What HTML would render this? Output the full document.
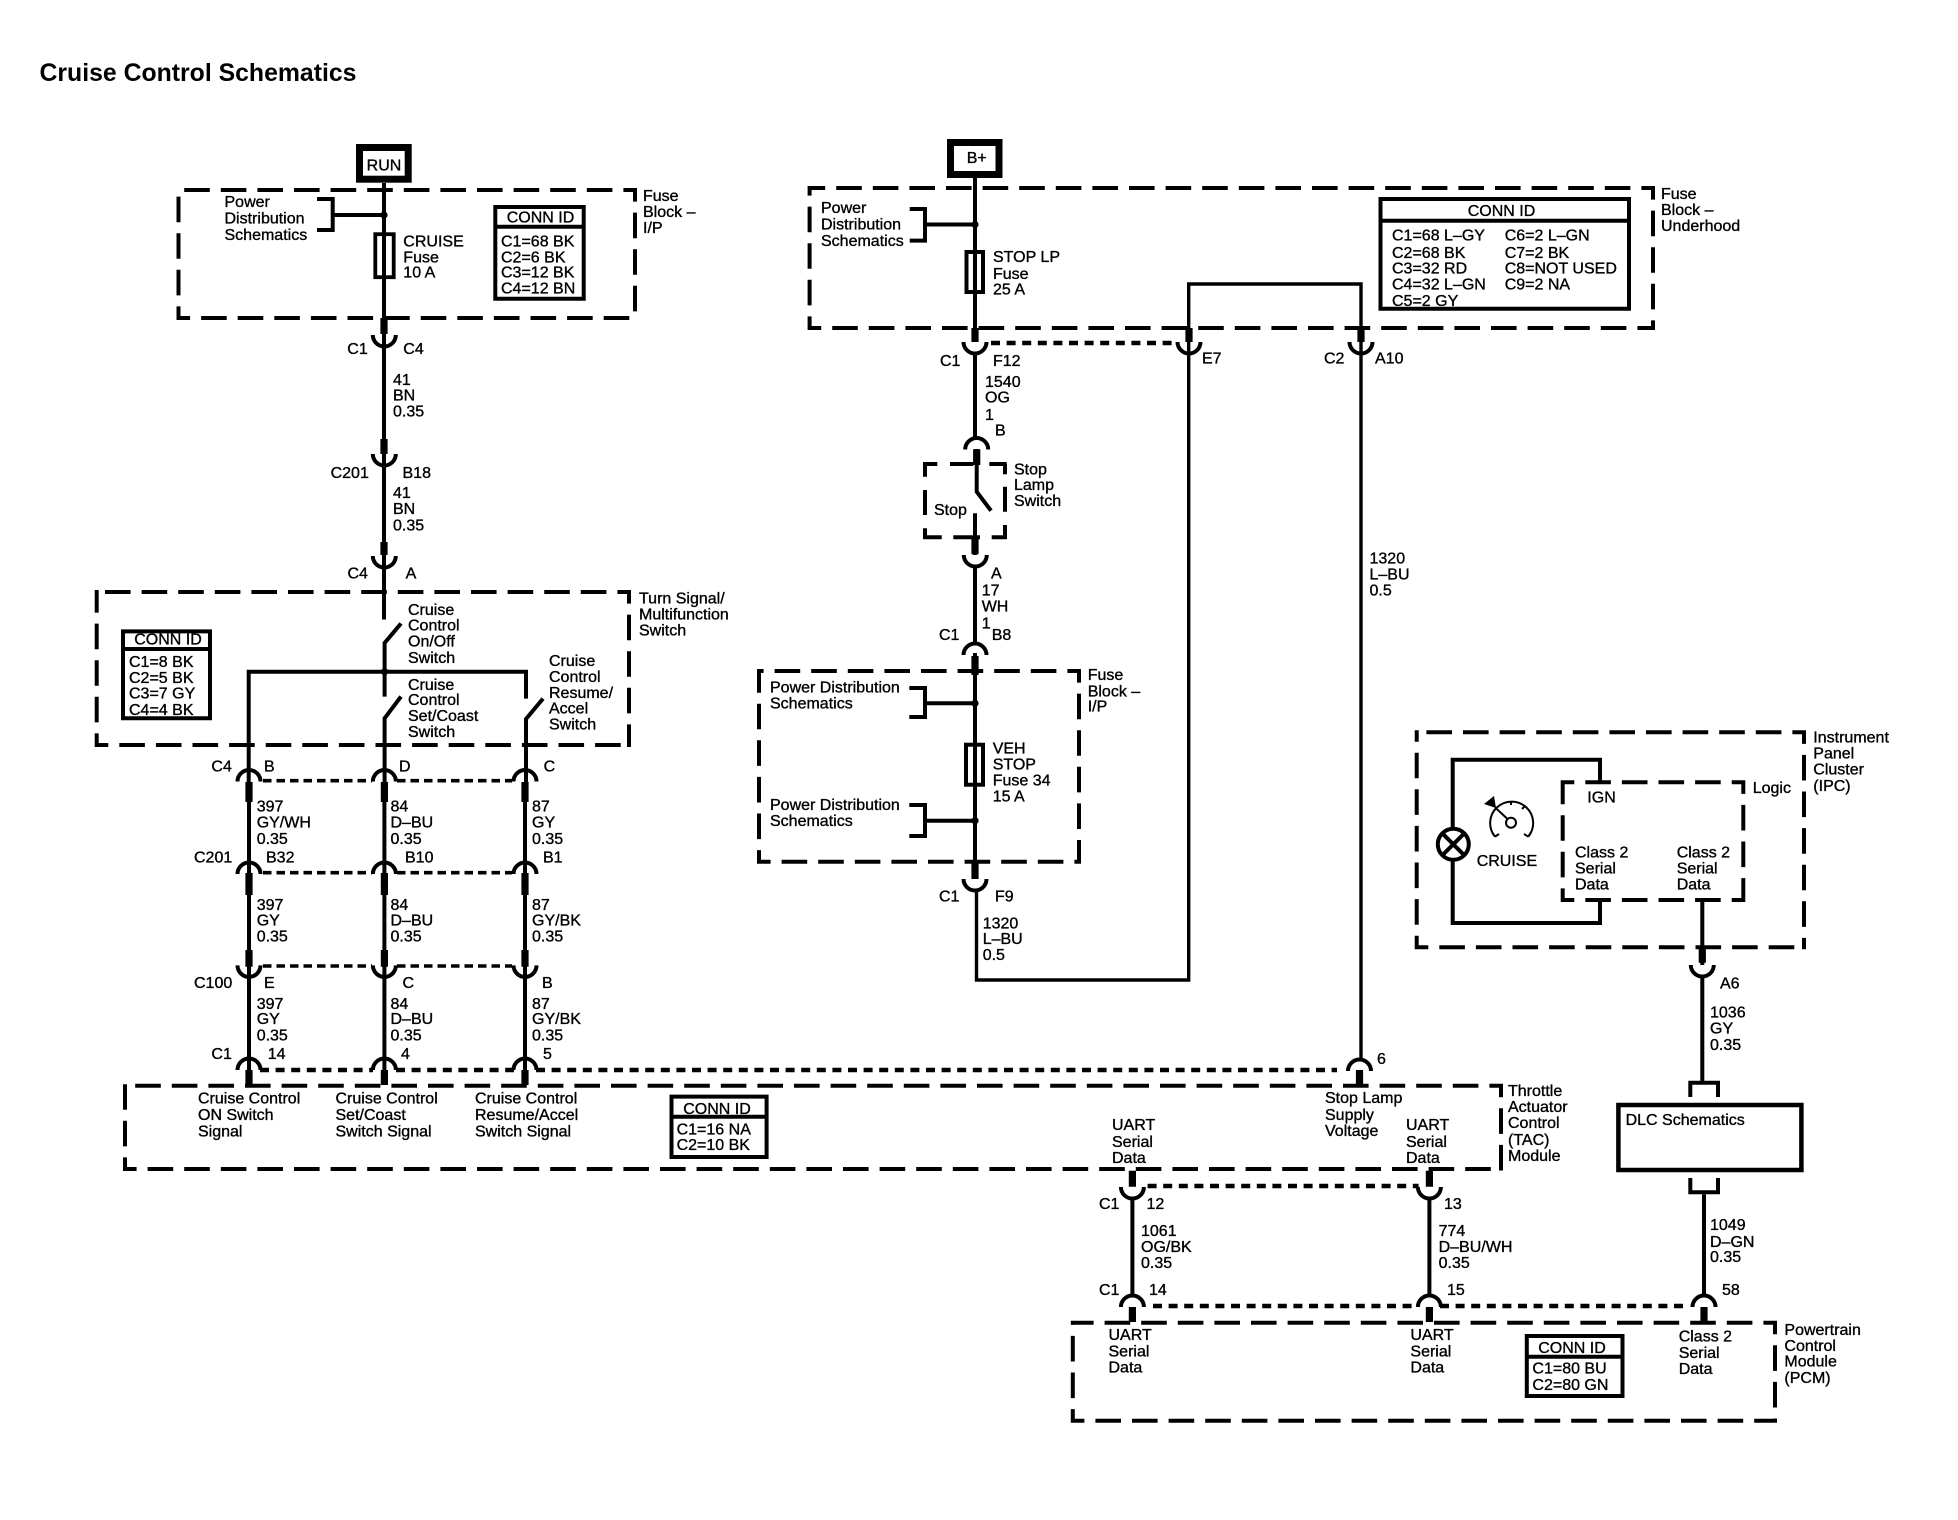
<!DOCTYPE html>
<html><head><meta charset="utf-8"><title>Cruise Control Schematics</title>
<style>
html,body{margin:0;padding:0;background:#fff}
svg{display:block}
text{font-family:"Liberation Sans",Arial,sans-serif;font-size:16px;fill:#000;stroke:#000;stroke-width:.35}
.m{text-anchor:middle}
.w,.b,.s,.x,.c,.dot,.dt,.d{fill:none;stroke:#000}
.w{stroke-width:4}
.n{fill:none;stroke:#000;stroke-width:3.4}
.s{stroke-width:7.2}
.c{stroke-width:4}
.x{stroke-width:4}
.d{stroke-width:4;stroke-linecap:square;stroke-dasharray:21.6 15;stroke-dashoffset:12}
.dot{stroke-width:4.5;stroke-dasharray:9 6.6}
.dt{stroke-width:3.6;stroke-dasharray:8.5 5}
</style></head><body>
<svg width="1958" height="1520" viewBox="0 0 1958 1520" xmlns="http://www.w3.org/2000/svg">
<rect width="1958" height="1520" fill="#fff"/>
<text x="39.5" y="81" style="font-size:24.8px;font-weight:bold;stroke-width:0">Cruise Control Schematics</text>

<!-- dashed boxes -->
<path class="d" d="M635 190H178.5M635 190V318M178.5 318V190M178.5 318H635"/>
<path class="d" d="M1653 188H809.6M1653 188V328M809.6 328V188M809.6 328H1653"/>
<path class="d" d="M629 592H96.7M629 592V745M96.7 745V592M96.7 745H629"/>
<path class="x" d="M923.3 464H937.3M950 464H973.3M989.3 464H1006.7M925 462V476.7M925 490V515M925 528.3V539M923.3 537.3H941.7M953.3 537.3H980M991.7 537.3H1006.7M1005 464V474.3M1005 486.7V511.7M1005 525V539"/>
<path class="d" d="M1079 671H759M1079 671V861.7M759 861.7V671M759 861.7H1079"/>
<path class="d" d="M1804 732.3H1416.7M1804 732.3V947.3M1416.7 947.3V732.3M1416.7 947.3H1804"/>
<path class="d" d="M1743.3 782.3H1562.7M1743.3 782.3V900M1562.7 900V782.3M1562.7 900H1743.3"/>
<path class="d" d="M1501 1085.7H125M1501 1085.7V1169M125 1169V1085.7M125 1169H1501"/>
<path class="d" d="M1775 1322.7H1072.8M1775 1322.7V1420.7M1072.8 1420.7V1322.7M1072.8 1420.7H1775"/>

<!-- boxes -->
<rect x="359.5" y="147.5" width="48.7" height="31.7" fill="#fff" stroke="#000" stroke-width="7"/>
<rect x="950.5" y="142.5" width="48.5" height="32" fill="#fff" stroke="#000" stroke-width="7"/>
<path class="x" d="M495.3 207H583.7V298.7H495.3ZM495.3 226.7H583.7"/>
<path class="x" d="M1380.5 199H1629V308.7H1380.5ZM1380.5 220.7H1629"/>
<path class="x" d="M123 631.4H210V718.3H123ZM123 649H210"/>
<path class="x" d="M671.5 1096.6H766.6V1157H671.5ZM671.5 1116.8H766.6"/>
<path class="x" d="M1526.8 1336H1622.5V1396H1526.8ZM1526.8 1356.7H1622.5"/>
<rect x="1618.4" y="1105" width="183" height="65" fill="#fff" stroke="#000" stroke-width="4.5"/>

<!-- wires, left -->
<path class="w" d="M384 183V619.5M401 623.5L384.6 643V696.6M401 696.6L384.6 718.3V782M543 698.6L526 719V782M526 698.6V671.7H248.7V782"/>
<path class="w" d="M332.7 215H384M317 199H332.7V230H317"/>
<path class="w" d="M249 782V1070M384.4 782V1070M525 782V1070"/>
<rect x="375.3" y="234.2" width="18.4" height="43" fill="none" stroke="#000" stroke-width="3.8"/>
<circle cx="384" cy="215" r="3.6"/><circle cx="384.6" cy="671.7" r="3.6"/>

<!-- wires, centre -->
<path class="w" d="M975 178V342M925 224.5H975M909.7 209H925V240.6H909.7"/>
<rect x="966.5" y="252" width="16.5" height="40" fill="none" stroke="#000" stroke-width="4"/>
<circle cx="975" cy="224.5" r="3.6"/>
<path class="w" d="M975 353V438M976.7 449V491.7L991 510.7M975 513.3V555M975 566V643M975 653V879"/>
<path class="w" d="M925 703.3H975M909.3 688H925V717H909.3M925 820.7H975M909.3 805H925V836H909.3"/>
<rect x="966" y="744.7" width="17" height="40" fill="none" stroke="#000" stroke-width="4"/>
<circle cx="975" cy="703.3" r="3.6"/><circle cx="975" cy="820.7" r="3.6"/>
<path class="n" d="M976.5 889V980H1188.7V284H1361V1060"/>

<!-- wires, right -->
<path class="w" d="M1132.4 1198V1296M1429.4 1198V1296M1704 1194.3V1296"/>
<path class="w" d="M1702.3 900V965M1702.3 977V1081M1690.3 1097V1082.7H1718V1097M1690.3 1178V1192.3H1718V1178"/>

<!-- IPC interior -->
<path class="w" d="M1452.7 829V759.7H1600V782.3M1452.7 860V923H1600V900"/>
<circle cx="1453.3" cy="844.3" r="15.5" fill="#fff" stroke="#000" stroke-width="4"/>
<path class="w" d="M1442.3 833.3L1464.3 855.3M1464.3 833.3L1442.3 855.3"/>
<g fill="none" stroke="#000" stroke-width="2">
<circle cx="1511" cy="822.7" r="5"/>
<path d="M1507 818.5L1495 807.3M1495 836.7A21.5 21.5 0 1 1 1528.3 836.7M1495 836.7L1492 832M1495 836.7L1499 834M1528.3 836.7L1524 834M1528.3 836.7L1531 832M1511 801V805M1525 806L1522 809"/>
</g>
<path d="M1484 804L1494 796L1496 808Z"/>

<!-- cups -->
<path class="c" d="M372.8 335a11.5 11.5 0 0 0 23 0M372.8 454a11.5 11.5 0 0 0 23 0M372.8 556a11.5 11.5 0 0 0 23 0
M963.5 342a11.5 11.5 0 0 0 23 0M1177.5 342a11.5 11.5 0 0 0 23 0M1349.5 342a11.5 11.5 0 0 0 23 0
M963.8 555a11.5 11.5 0 0 0 23 0M963.5 879a11.5 11.5 0 0 0 23 0
M237.5 965.4a11.5 11.5 0 0 0 23 0M372.9 965.4a11.5 11.5 0 0 0 23 0M513.5 965.4a11.5 11.5 0 0 0 23 0
M1690.8 965a11.5 11.5 0 0 0 23 0M1120.9 1187a11.5 11.5 0 0 0 23 0M1417.9 1187a11.5 11.5 0 0 0 23 0
M965.2 449.5a11.5 11.5 0 0 1 23 0M963.5 655a11.5 11.5 0 0 1 23 0
M237.5 781.5a11.5 11.5 0 0 1 23 0M372.9 781.5a11.5 11.5 0 0 1 23 0M513.5 781.5a11.5 11.5 0 0 1 23 0
M237.5 874a11.5 11.5 0 0 1 23 0M372.9 874a11.5 11.5 0 0 1 23 0M513.5 874a11.5 11.5 0 0 1 23 0
M237.5 1070a11.5 11.5 0 0 1 23 0M372.9 1070a11.5 11.5 0 0 1 23 0M513.5 1070a11.5 11.5 0 0 1 23 0
M1348 1071a11.5 11.5 0 0 1 23 0M1120.9 1307a11.5 11.5 0 0 1 23 0M1417.9 1307a11.5 11.5 0 0 1 23 0M1692.5 1307a11.5 11.5 0 0 1 23 0"/>

<!-- stubs -->
<path class="s" d="M384 318V334M384 439V454M384 542V555M975 328V342M1189 328V342M1361 328V342M976.7 449.3V465M975 536.7V554.3M975 656V675M975 860V879
M249 782V802M384.4 782V802M525 782V802M249 873V895M384.4 873V895M525 873V895M249 950V966.7M384.4 950V966.7M525 950V966.7M249 1070V1085M384.4 1070V1085M525 1070V1085
M1359.5 1070V1085M1702.3 947V962.7M1132.4 1170.7V1186.7M1429.4 1170.7V1186.7M1132.4 1307V1322M1429.4 1307V1322M1704 1307V1322"/>

<!-- dotted bus lines -->
<path class="dot" d="M991 343H1176M260 1070H373M396 1070H514M536 1070H1337M1147.6 1186H1418.6M1153 1306H1418M1440 1306H1689.6"/>
<path class="dt" d="M263 780.7H372M397 780.7H512M263 872.7H372M397 872.7H512M263 966H372M397 966H512"/>

<!-- labels top-left -->
<text class="m" x="384" y="170.5">RUN</text>
<text x="224.5" y="207">Power</text><text x="224.5" y="223.4">Distribution</text><text x="224.5" y="239.8">Schematics</text>
<text x="403.3" y="246.7">CRUISE</text><text x="403.3" y="262.3">Fuse</text><text x="403.3" y="277.7">10 A</text>
<text class="m" x="540.5" y="222.3">CONN ID</text>
<text x="501" y="246.7">C1=68 BK</text><text x="501" y="262.3">C2=6 BK</text><text x="501" y="277.7">C3=12 BK</text><text x="501" y="293.3">C4=12 BN</text>
<text x="643" y="201">Fuse</text><text x="643" y="217">Block –</text><text x="643" y="233">I/P</text>
<text x="347.3" y="354">C1</text><text x="403.3" y="354">C4</text>
<text x="393" y="385">41</text><text x="393" y="400.4">BN</text><text x="393" y="416.5">0.35</text>
<text x="330.6" y="478">C201</text><text x="402.5" y="478">B18</text>
<text x="393" y="498">41</text><text x="393" y="514">BN</text><text x="393" y="530.7">0.35</text>
<text x="347.5" y="578.5">C4</text><text x="405.6" y="578.5">A</text>

<!-- turn signal -->
<text x="639" y="603.7">Turn Signal/</text><text x="639" y="619.5">Multifunction</text><text x="639" y="635.3">Switch</text>
<text x="408" y="614.8">Cruise</text><text x="408" y="630.6">Control</text><text x="408" y="646.4">On/Off</text><text x="408" y="663">Switch</text>
<text x="408" y="690">Cruise</text><text x="408" y="705">Control</text><text x="408" y="721">Set/Coast</text><text x="408" y="737">Switch</text>
<text x="549" y="666">Cruise</text><text x="549" y="682">Control</text><text x="549" y="698">Resume/</text><text x="549" y="713.6">Accel</text><text x="549" y="729.4">Switch</text>
<text class="m" x="168" y="644.4">CONN ID</text>
<text x="129" y="667">C1=8 BK</text><text x="129" y="682.8">C2=5 BK</text><text x="129" y="698.6">C3=7 GY</text><text x="129" y="715">C4=4 BK</text>

<!-- harness labels -->
<text x="211.4" y="771.7">C4</text><text x="264" y="771.7">B</text><text x="399" y="771.7">D</text><text x="543.6" y="771.7">C</text>
<text x="256.7" y="811.7">397</text><text x="256.7" y="827.7">GY/WH</text><text x="256.7" y="844">0.35</text>
<text x="390.5" y="811.7">84</text><text x="390.5" y="827.7">D–BU</text><text x="390.5" y="844">0.35</text>
<text x="532" y="811.7">87</text><text x="532" y="827.7">GY</text><text x="532" y="844">0.35</text>
<text x="194" y="862.6">C201</text><text x="266" y="862.6">B32</text><text x="405" y="862.6">B10</text><text x="543" y="862.6">B1</text>
<text x="256.7" y="910">397</text><text x="256.7" y="925.7">GY</text><text x="256.7" y="941.7">0.35</text>
<text x="390.5" y="910">84</text><text x="390.5" y="925.7">D–BU</text><text x="390.5" y="941.7">0.35</text>
<text x="532" y="910">87</text><text x="532" y="925.7">GY/BK</text><text x="532" y="941.7">0.35</text>
<text x="194" y="988">C100</text><text x="264" y="988">E</text><text x="402.5" y="988">C</text><text x="542" y="988">B</text>
<text x="256.7" y="1008.9">397</text><text x="256.7" y="1024">GY</text><text x="256.7" y="1040.5">0.35</text>
<text x="390.5" y="1008.9">84</text><text x="390.5" y="1024">D–BU</text><text x="390.5" y="1040.5">0.35</text>
<text x="532" y="1008.9">87</text><text x="532" y="1024">GY/BK</text><text x="532" y="1040.5">0.35</text>
<text x="211.4" y="1059">C1</text><text x="267.7" y="1059">14</text><text x="401" y="1059">4</text><text x="543" y="1059">5</text>

<!-- TAC -->
<text x="198" y="1103.7">Cruise Control</text><text x="198" y="1120">ON Switch</text><text x="198" y="1136.5">Signal</text>
<text x="335.5" y="1103.7">Cruise Control</text><text x="335.5" y="1120">Set/Coast</text><text x="335.5" y="1136.5">Switch Signal</text>
<text x="475" y="1103.7">Cruise Control</text><text x="475" y="1120">Resume/Accel</text><text x="475" y="1136.5">Switch Signal</text>
<text class="m" x="717" y="1114">CONN ID</text><text x="676.6" y="1134.5">C1=16 NA</text><text x="676.6" y="1150">C2=10 BK</text>
<text x="1377" y="1064">6</text>
<text x="1325" y="1103">Stop Lamp</text><text x="1325" y="1120">Supply</text><text x="1325" y="1136">Voltage</text>
<text x="1112" y="1130">UART</text><text x="1112" y="1147">Serial</text><text x="1112" y="1163">Data</text>
<text x="1406" y="1130">UART</text><text x="1406" y="1147">Serial</text><text x="1406" y="1163">Data</text>
<text x="1508" y="1096">Throttle</text><text x="1508" y="1112">Actuator</text><text x="1508" y="1128">Control</text><text x="1508" y="1145">(TAC)</text><text x="1508" y="1161">Module</text>

<!-- centre labels -->
<text class="m" x="976.7" y="163">B+</text>
<text x="821" y="213">Power</text><text x="821" y="229.5">Distribution</text><text x="821" y="246">Schematics</text>
<text x="993" y="262">STOP LP</text><text x="993" y="279">Fuse</text><text x="993" y="294.6">25 A</text>
<text class="m" x="1501.5" y="216">CONN ID</text>
<text x="1392" y="240.6">C1=68 L–GY</text><text x="1392" y="258">C2=68 BK</text><text x="1392" y="273.6">C3=32 RD</text><text x="1392" y="289.7">C4=32 L–GN</text><text x="1392" y="305.8">C5=2 GY</text>
<text x="1504.7" y="240.6">C6=2 L–GN</text><text x="1504.7" y="258">C7=2 BK</text><text x="1504.7" y="273.6">C8=NOT USED</text><text x="1504.7" y="289.7">C9=2 NA</text>
<text x="1661" y="199">Fuse</text><text x="1661" y="215">Block –</text><text x="1661" y="231">Underhood</text>
<text x="940" y="366">C1</text><text x="993" y="366">F12</text><text x="1202" y="363.6">E7</text><text x="1324" y="363.6">C2</text><text x="1375" y="363.6">A10</text>
<text x="985" y="387">1540</text><text x="985" y="402.7">OG</text><text x="985" y="420">1</text><text x="995" y="435.7">B</text>
<text x="934" y="515">Stop</text>
<text x="1014" y="474.3">Stop</text><text x="1014" y="490">Lamp</text><text x="1014" y="506">Switch</text>
<text x="991" y="578.3">A</text><text x="981.7" y="595.7">17</text><text x="981.7" y="611.7">WH</text><text x="981.7" y="628.3">1</text>
<text x="939" y="640">C1</text><text x="991.7" y="640">B8</text>
<text x="770" y="692.7">Power Distribution</text><text x="770" y="708.3">Schematics</text>
<text x="770" y="810">Power Distribution</text><text x="770" y="826">Schematics</text>
<text x="992.7" y="753.3">VEH</text><text x="992.7" y="769.3">STOP</text><text x="992.7" y="785.7">Fuse 34</text><text x="992.7" y="801.7">15 A</text>
<text x="1087.7" y="680">Fuse</text><text x="1087.7" y="696.7">Block –</text><text x="1087.7" y="711.7">I/P</text>
<text x="939" y="901.7">C1</text><text x="995" y="901.7">F9</text>
<text x="982.7" y="928.3">1320</text><text x="982.7" y="944">L–BU</text><text x="982.7" y="960">0.5</text>
<text x="1369.5" y="563.6">1320</text><text x="1369.5" y="579.7">L–BU</text><text x="1369.5" y="595.4">0.5</text>

<!-- IPC labels -->
<text x="1813.3" y="742.7">Instrument</text><text x="1813.3" y="758.3">Panel</text><text x="1813.3" y="774.3">Cluster</text><text x="1813.3" y="791">(IPC)</text>
<text x="1587.3" y="802.7">IGN</text><text x="1752.7" y="793">Logic</text>
<text x="1476.7" y="866">CRUISE</text>
<text x="1575" y="857.3">Class 2</text><text x="1575" y="873.3">Serial</text><text x="1575" y="889.3">Data</text>
<text x="1676.7" y="857.3">Class 2</text><text x="1676.7" y="873.3">Serial</text><text x="1676.7" y="889.3">Data</text>
<text x="1720" y="988.3">A6</text>
<text x="1710" y="1017.7">1036</text><text x="1710" y="1033.3">GY</text><text x="1710" y="1050">0.35</text>
<text x="1625.6" y="1125">DLC Schematics</text>

<!-- lower right labels -->
<text x="1099" y="1209">C1</text><text x="1146.5" y="1209">12</text><text x="1444" y="1209">13</text>
<text x="1141" y="1236">1061</text><text x="1141" y="1252">OG/BK</text><text x="1141" y="1268">0.35</text>
<text x="1438.6" y="1236">774</text><text x="1438.6" y="1252">D–BU/WH</text><text x="1438.6" y="1268">0.35</text>
<text x="1710" y="1230">1049</text><text x="1710" y="1247">D–GN</text><text x="1710" y="1262">0.35</text>
<text x="1099" y="1295">C1</text><text x="1149" y="1295">14</text><text x="1447" y="1295">15</text><text x="1722" y="1295">58</text>
<text x="1108.5" y="1340">UART</text><text x="1108.5" y="1356.7">Serial</text><text x="1108.5" y="1372.7">Data</text>
<text x="1410.4" y="1340">UART</text><text x="1410.4" y="1356.7">Serial</text><text x="1410.4" y="1372.7">Data</text>
<text x="1678.7" y="1341.7">Class 2</text><text x="1678.7" y="1358">Serial</text><text x="1678.7" y="1374">Data</text>
<text class="m" x="1572" y="1353">CONN ID</text><text x="1532.4" y="1373.3">C1=80 BU</text><text x="1532.4" y="1390">C2=80 GN</text>
<text x="1784.4" y="1335">Powertrain</text><text x="1784.4" y="1351">Control</text><text x="1784.4" y="1366.7">Module</text><text x="1784.4" y="1383">(PCM)</text>
</svg>
</body></html>
